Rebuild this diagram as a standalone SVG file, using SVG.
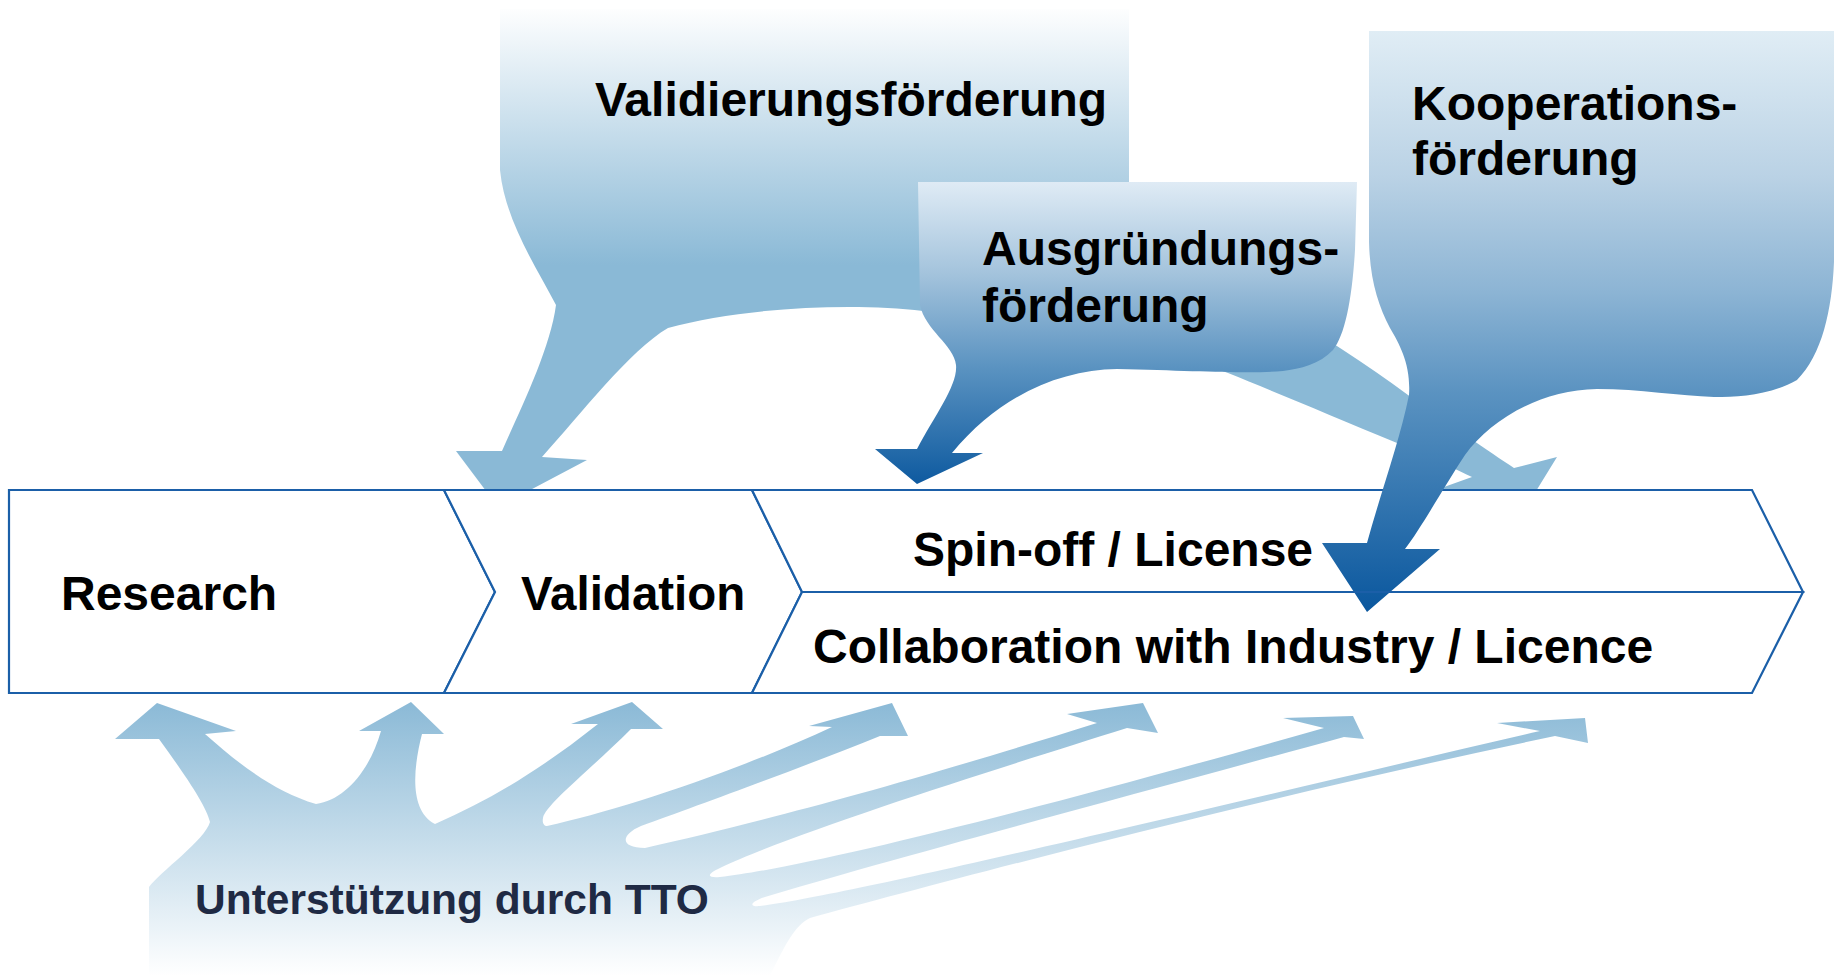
<svg xmlns="http://www.w3.org/2000/svg" width="1834" height="976" viewBox="0 0 1834 976">
<defs>
<linearGradient id="gVal" gradientUnits="userSpaceOnUse" x1="0" y1="5" x2="0" y2="265">
<stop offset="0" stop-color="#FFFFFF"/>
<stop offset="1" stop-color="#8AB9D6"/>
</linearGradient>
<linearGradient id="gAus" gradientUnits="userSpaceOnUse" x1="0" y1="182" x2="0" y2="490">
<stop offset="0" stop-color="#DFEBF5"/>
<stop offset="0.3" stop-color="#A3C3DC"/>
<stop offset="0.6" stop-color="#5B93C1"/>
<stop offset="1" stop-color="#0A579E"/>
</linearGradient>
<linearGradient id="gKoop" gradientUnits="userSpaceOnUse" x1="0" y1="31" x2="0" y2="612">
<stop offset="0" stop-color="#E0EDF5"/>
<stop offset="0.25" stop-color="#BAD2E5"/>
<stop offset="0.45" stop-color="#8CB4D4"/>
<stop offset="0.62" stop-color="#5B93C1"/>
<stop offset="1" stop-color="#0A579E"/>
</linearGradient>
<linearGradient id="gTTO" gradientUnits="userSpaceOnUse" x1="0" y1="700" x2="0" y2="976">
<stop offset="0" stop-color="#8AB9D6"/>
<stop offset="1" stop-color="#FFFFFF"/>
</linearGradient>
</defs>
<style>
.lbl{font-family:"Liberation Sans",Arial,sans-serif;font-weight:bold;font-size:48px;fill:#000000}
.tto{font-family:"Liberation Sans",Arial,sans-serif;font-weight:bold;font-size:42.5px;fill:#1F2A44}
.stage{fill:#FFFFFF;stroke:#1B5FA8;stroke-width:2.2;stroke-linejoin:miter}
.divider{fill:none;stroke:#1B5FA8;stroke-width:2.2}
</style>

<g id="tto-support">
<path fill="url(#gTTO)" d="M 149,976 L 149,887 C 160,872 205,840 210,822 C 206,805 185,775 159,739 L 115,739 L 157,703 L 236,731 L 205,734 C 240,765 275,792 316,804 C 345,800 370,770 381,731 L 359,731 L 411,702 L 444,734 L 422,734 C 414,765 408,810 435,824 C 490,800 540,770 598,724 L 571,724 L 632,702 L 663,729 L 631,729 C 590,770 545,805 543,818 C 542,823 544,826 547,826 C 620,810 740,770 832,727 L 809,726 L 892,703 L 908,736 L 880,736 C 800,768 700,805 641,826 C 620,835 620,848 645,848 C 760,822 900,785 1097,723 L 1067,714 L 1143,703 L 1158,733 L 1127,728 C 1000,768 800,830 720,868 C 705,875 708,878 720,877 C 800,868 1000,820 1324,728 L 1283,718 L 1353,716 L 1364,739 L 1344,737 C 1150,790 880,862 765,897 C 748,903 750,907 760,906 C 850,895 1200,810 1540,731 L 1497,723 L 1585,718 L 1588,743 L 1555,736 C 1250,800 950,880 810,918 C 795,925 785,945 770,976 Z"/>
<text class="tto" x="195" y="914">Unterstützung durch TTO</text>
</g>

<g id="validierungsfoerderung">
<path fill="url(#gVal)" d="M 500,9 L 1129,9 L 1129,262 L 1245,292 C 1300,320 1360,360 1408,395 C 1450,425 1490,452 1514,468 L 1557,457 L 1517,522 L 1430,492 L 1472,477 C 1440,462 1420,452 1397,443 C 1330,415 1270,390 1228,373 L 1150,345 L 923,311 C 850,302 740,308 668,328 C 630,350 580,415 542,457 L 587,460 L 498,507 L 456,451 L 502,451 C 520,410 550,350 556,305 C 535,265 505,220 500,170 Z"/>
<text class="lbl" x="595" y="116">Validierungsförderung</text>
</g>

<g id="ausgruendungsfoerderung">
<path fill="url(#gAus)" d="M 918,182 L 1357,182 L 1355,250 C 1352,300 1345,335 1333,350 C 1320,364 1300,369 1283,371 C 1250,374 1200,371 1117,369 C 1060,370 1000,395 952,453 L 983,453 L 917,484 L 875,449 L 917,449 C 935,415 958,385 956,365 C 954,345 925,330 920,305 Z"/>
<text class="lbl" x="982" y="265">Ausgründungs-</text>
<text class="lbl" x="982" y="322">förderung</text>
</g>

<g id="stage-research">
<path class="stage" d="M 9,490 L 444,490 L 495,592 L 444,693 L 9,693 Z"/>
<text class="lbl" x="61" y="610">Research</text>
</g>
<g id="stage-validation">
<path class="stage" d="M 444,490 L 752,490 L 802,592 L 752,693 L 444,693 L 495,592 Z"/>
<text class="lbl" x="521" y="610" style="font-size:47.5px">Validation</text>
</g>
<g id="stage-spinoff">
<path class="stage" d="M 752,490 L 1752,490 L 1803,592 L 802,592 Z"/>
<text class="lbl" x="913" y="566">Spin-off / License</text>
</g>
<g id="stage-collaboration">
<path class="stage" d="M 802,592 L 1803,592 L 1752,693 L 752,693 Z"/>
<text class="lbl" x="813" y="663">Collaboration with Industry / Licence</text>
</g>

<g id="kooperationsfoerderung">
<path fill="url(#gKoop)" d="M 1369,31 L 1834,31 L 1834,262 C 1832,310 1822,355 1797,380 C 1770,395 1740,397 1714,397 C 1680,396 1640,389 1597,389 C 1540,390 1490,420 1465,455 C 1445,485 1420,530 1405,549 L 1440,549 L 1367,612 L 1322,543 L 1367,543 C 1380,495 1400,440 1409,395 C 1411,365 1400,345 1390,328 C 1378,305 1370,280 1369,242 Z"/>
<text class="lbl" x="1412" y="120">Kooperations-</text>
<text class="lbl" x="1412" y="175">förderung</text>
</g>

<g id="connectors">
<line class="divider" x1="802" y1="592" x2="1803" y2="592"/>
</g>
</svg>
